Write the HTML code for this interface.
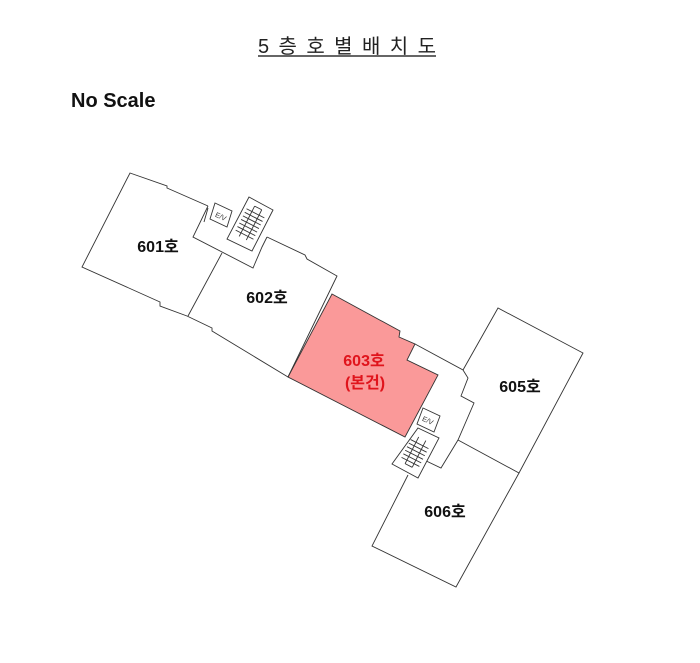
<!DOCTYPE html>
<html><head><meta charset="utf-8"><style>
html,body{margin:0;padding:0;background:#fff;}
svg{display:block;}
text{font-family:"Liberation Sans","Noto Sans CJK KR",sans-serif;}
</style></head><body>
<svg width="700" height="663" viewBox="0 0 700 663" xmlns="http://www.w3.org/2000/svg">
<rect width="700" height="663" fill="#fff"/>
<text x="258" y="53" font-size="20" textLength="178" lengthAdjust="spacing" fill="#222">5 층 호 별 배 치 도</text>
<line x1="258" y1="56" x2="436" y2="56" stroke="#333" stroke-width="1.5"/>
<text x="71" y="107" font-size="20" font-weight="bold" fill="#111">No Scale</text>

<g fill="none" stroke="#333" stroke-width="0.9">
<polygon points="332,294 400,331 399,337 415,344 407,360 438,375 405,437 288,377" fill="#fa9999" stroke="#333"/>
<polyline points="208,206 167,188 167,186 130,173 82,267 160,302 160,306 187,316 212,328 212,331 288,377"/>
<polyline points="267,237 305,255 307,259 337,276 288,377"/>
<line x1="222" y1="253" x2="188" y2="316"/>
<polyline points="208,206 193,237 253,268 262,247 267,237"/>
<line x1="208" y1="208" x2="204" y2="222"/>
<polygon points="215,203 232,211 227,227 210,219"/>
<polygon points="249,197 273,210 252,251 227,239" fill="#fff"/>
<g transform="translate(250,224) rotate(27)">
<line x1="-4" y1="-18" x2="-4" y2="16"/>
<line x1="4" y1="-18" x2="4" y2="16"/>
<line x1="-4" y1="-18" x2="4" y2="-18"/>
<line x1="-10" y1="-12" x2="10" y2="-12"/><line x1="-10" y1="-8" x2="10" y2="-8"/>
<line x1="-10" y1="-4" x2="10" y2="-4"/><line x1="-10" y1="0" x2="10" y2="0"/>
<line x1="-10" y1="4" x2="10" y2="4"/><line x1="-10" y1="8" x2="10" y2="8"/>
<line x1="-10" y1="12" x2="10" y2="12"/>
</g>
<polyline points="415,344 463,370 468,378 461,396 474,403 458,440 441,468 420,458"/>
<polyline points="463,370 498,308 583,353 519,473 458,440"/>
<polyline points="519,473 456,587 372,546 408,475"/>
<polygon points="423,408 440,416 434,432 417,424"/>
<polygon points="418,428 439,438 418,478 392,464" fill="#fff"/>
<g transform="translate(415,453) rotate(27)">
<line x1="-4" y1="-16" x2="-4" y2="14"/>
<line x1="4" y1="-16" x2="4" y2="14"/>
<line x1="-4" y1="14" x2="4" y2="14"/>
<line x1="-10" y1="-10" x2="10" y2="-10"/><line x1="-10" y1="-6" x2="10" y2="-6"/>
<line x1="-10" y1="-2" x2="10" y2="-2"/><line x1="-10" y1="2" x2="10" y2="2"/>
<line x1="-10" y1="6" x2="10" y2="6"/><line x1="-10" y1="10" x2="10" y2="10"/>
</g>
</g>
<text x="221" y="219" font-size="7" fill="#333" transform="rotate(25 221 216)" text-anchor="middle">E/V</text>
<text x="428" y="423" font-size="7" fill="#333" transform="rotate(25 428 420)" text-anchor="middle">E/V</text>

<g font-size="16" font-weight="bold" fill="#111" text-anchor="middle">
<text x="158" y="252">601호</text>
<text x="267" y="303">602호</text>
<text x="520" y="392">605호</text>
<text x="445" y="517">606호</text>
<text x="364" y="366" fill="#e0141c">603호</text>
<text x="365" y="388" fill="#e0141c">(본건)</text>
</g>
</svg>
</body></html>
